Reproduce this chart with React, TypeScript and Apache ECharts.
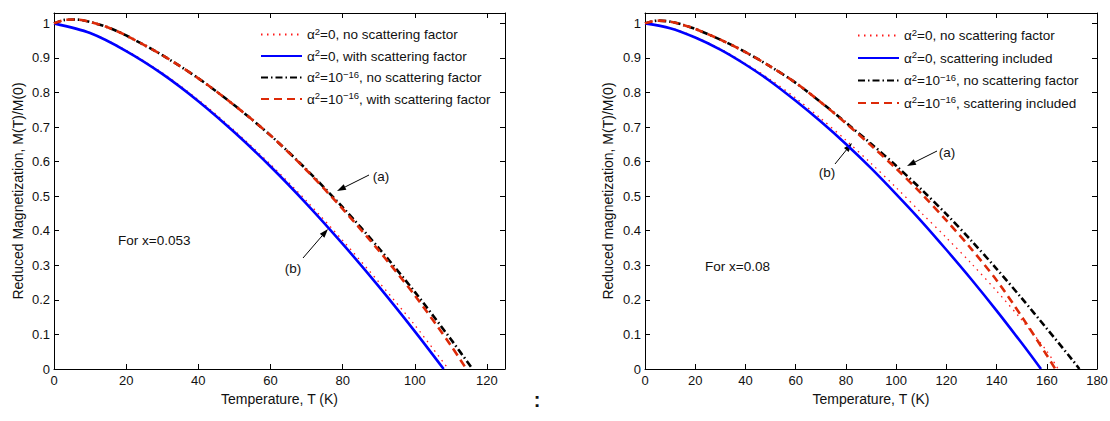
import React, { useEffect, useRef } from 'react';
import * as echarts from 'echarts';

// ---------- data ----------
const leftTicksX = [0, 20, 40, 60, 80, 100, 120];
const rightTicksX = [0, 20, 40, 60, 80, 100, 120, 140, 160, 180];

const leftNames = [
  'α²=0, no scattering factor',
  'α²=0, with scattering factor',
  'α²=10⁻¹⁶, no scattering factor',
  'α²=10⁻¹⁶, with scattering factor',
];
const rightNames = [
  'α²=0, no scattering factor',
  'α²=0, scattering included',
  'α²=10⁻¹⁶, no scattering factor',
  'α²=10⁻¹⁶, scattering included',
];

// Left panel (x = 0.053)
const leftDotT = [0, 10, 20, 30, 40, 50, 60, 70, 80, 90, 100, 109.3];
const leftDotM = [1, 0.973, 0.922, 0.857, 0.779, 0.69, 0.592, 0.486, 0.372, 0.252, 0.127, 0];
const leftBlueT = [0, 10, 20, 30, 40, 50, 60, 70, 80, 90, 100, 108];
const leftBlueM = [1, 0.972, 0.92, 0.854, 0.775, 0.685, 0.586, 0.478, 0.362, 0.239, 0.109, 0];
const leftBlackT = [0, 3, 6, 10, 15, 20, 30, 40, 50, 60, 70, 80, 90, 100, 110, 116];
const leftBlackM = [1, 1.01, 1.011, 1.004, 0.988, 0.965, 0.908, 0.841, 0.763, 0.676, 0.577, 0.468, 0.35, 0.223, 0.086, 0];
const leftRedT = [0, 3, 6, 10, 15, 20, 30, 40, 50, 60, 70, 80, 90, 100, 110, 114.3];
const leftRedM = [1, 1.01, 1.011, 1.004, 0.988, 0.965, 0.908, 0.841, 0.763, 0.676, 0.575, 0.463, 0.343, 0.213, 0.068, 0];

// Right panel (x = 0.08)
const rightDotT = [0, 10, 20, 30, 40, 50, 60, 70, 80, 90, 100, 110, 120, 130, 140, 150, 160, 164.5];
const rightDotM = [1, 0.987, 0.961, 0.926, 0.884, 0.837, 0.784, 0.725, 0.662, 0.595, 0.525, 0.452, 0.38, 0.305, 0.226, 0.142, 0.052, 0];
const rightBlueT = [0, 10, 20, 30, 40, 50, 60, 70, 80, 90, 100, 110, 120, 130, 140, 150, 157.7];
const rightBlueM = [1, 0.986, 0.959, 0.924, 0.881, 0.832, 0.776, 0.716, 0.651, 0.581, 0.506, 0.428, 0.345, 0.259, 0.169, 0.075, 0];
const rightBlackT = [0, 5, 10, 15, 20, 30, 40, 50, 60, 70, 80, 90, 100, 110, 120, 130, 140, 150, 160, 170, 173];
const rightBlackM = [1, 1.008, 1.005, 0.996, 0.984, 0.953, 0.917, 0.875, 0.828, 0.772, 0.713, 0.652, 0.588, 0.52, 0.448, 0.371, 0.29, 0.205, 0.117, 0.028, 0];
const rightRedT = [0, 5, 10, 15, 20, 30, 40, 50, 60, 70, 80, 90, 100, 110, 120, 130, 140, 150, 160, 163.4];
const rightRedM = [1, 1.008, 1.005, 0.996, 0.984, 0.953, 0.917, 0.875, 0.828, 0.772, 0.711, 0.647, 0.58, 0.508, 0.43, 0.347, 0.257, 0.152, 0.04, 0];

const FONT = '"Liberation Sans", Arial, Helvetica, sans-serif';
const TXT = '#111';

const pairs = (t: number[], m: number[]) => t.map((v, i) => [v, m[i]]);

const STYLES = [
  { color: '#ff1a1a', width: 1.3, type: [1.5, 4.5] as any },
  { color: '#0000ff', width: 2.6, type: 'solid' as any },
  { color: '#000000', width: 2.6, type: [7, 3, 1.5, 3] as any },
  { color: '#dd2a08', width: 2.6, type: [8, 5] as any },
];

function lineSeries(name: string, t: number[], m: number[], gi: number, k: number) {
  const s = STYLES[k];
  return {
    type: 'line',
    name,
    xAxisIndex: gi,
    yAxisIndex: gi,
    data: pairs(t, m),
    symbol: 'none',
    showSymbol: false,
    smooth: 0.3,
    silent: true,
    z: 2 + k,
    lineStyle: { color: s.color, width: s.width, type: s.type },
    itemStyle: { color: s.color },
  };
}

function arrow(x1: number, y1: number, x2: number, y2: number) {
  const dx = x2 - x1;
  const dy = y2 - y1;
  const L = Math.hypot(dx, dy);
  const ux = dx / L;
  const uy = dy / L;
  const hl = 9;
  const hw = 3;
  const bx = x2 - ux * hl;
  const by = y2 - uy * hl;
  return [
    { type: 'line', shape: { x1, y1, x2: bx, y2: by }, style: { stroke: '#000', lineWidth: 1 } },
    {
      type: 'polygon',
      shape: { points: [[x2, y2], [bx - uy * hw, by + ux * hw], [bx + uy * hw, by - ux * hw]] },
      style: { fill: '#000' },
    },
  ];
}

function label(text: string, x: number, y: number, align = 'center', size = 13.5, weight = 'normal') {
  return {
    type: 'text',
    x,
    y,
    style: {
      text,
      fill: TXT,
      fontSize: size,
      fontWeight: weight,
      fontFamily: FONT,
      align,
      verticalAlign: 'middle',
      textAlign: align,
      textVerticalAlign: 'middle',
    },
  };
}

const richFormatter = (name: string) => {
  const rest = name.split(', ').slice(1).join(', ');
  if (name.indexOf('10⁻¹⁶') >= 0) return `{t|α}{s|2}{t|=10}{s|−16}{t|, ${rest}}`;
  return `{t|α}{s|2}{t|=0, ${rest}}`;
};

const rich = {
  t: { fontSize: 13.5, fontFamily: FONT, color: TXT, lineHeight: 17, verticalAlign: 'middle' },
  s: { fontSize: 9.5, fontFamily: FONT, color: TXT, lineHeight: 10, verticalAlign: 'top' },
};

function xAxes(gi: number, max: number, main: boolean) {
  return {
    type: 'value',
    gridIndex: gi,
    min: 0,
    max,
    interval: 20,
    position: main ? 'bottom' : 'top',
    name: main ? 'Temperature, T (K)' : '',
    nameLocation: 'middle',
    nameGap: 22,
    nameTextStyle: { fontSize: 14, fontFamily: FONT, color: TXT },
    axisLine: { show: true, onZero: false, lineStyle: { color: '#000', width: 1 } },
    axisTick: { show: true, inside: true, length: 5, lineStyle: { color: '#000', width: 1 } },
    axisLabel: {
      show: main,
      margin: 5,
      fontSize: 13,
      fontFamily: FONT,
      color: TXT,
      formatter: (v: number) => (Math.abs(v % 20) < 1e-6 ? String(v) : ''),
    },
    splitLine: { show: false },
  };
}

function yAxes(gi: number, main: boolean, name: string, gap: number) {
  return {
    type: 'value',
    gridIndex: gi,
    min: 0,
    max: 1.03,
    interval: 0.1,
    position: main ? 'left' : 'right',
    name: main ? name : '',
    nameLocation: 'middle',
    nameGap: gap,
    nameTextStyle: { fontSize: 14, fontFamily: FONT, color: TXT },
    axisLine: { show: true, onZero: false, lineStyle: { color: '#000', width: 1 } },
    axisTick: { show: true, inside: true, length: 5, lineStyle: { color: '#000', width: 1 } },
    axisLabel: {
      show: main,
      margin: 4,
      fontSize: 13,
      fontFamily: FONT,
      color: TXT,
      formatter: (v: number) => {
        const r = Math.round(v * 10);
        return Math.abs(v * 10 - r) < 1e-6 ? String(r / 10) : '';
      },
    },
    splitLine: { show: false },
  };
}

const legendBase = {
  orient: 'vertical',
  itemWidth: 41,
  itemHeight: 10,
  selectedMode: false,
  formatter: richFormatter,
  itemStyle: { opacity: 0, borderWidth: 0 },
  textStyle: { fontFamily: FONT, color: TXT, rich },
};

export default function App() {
  const ref = useRef<HTMLDivElement>(null);

  useEffect(() => {
    if (!ref.current) return;
    const chart = echarts.init(ref.current, undefined, { renderer: 'svg' });

    const option: any = {
      animation: false,
      backgroundColor: '#ffffff',
      grid: [
        { left: 54, top: 13, width: 451, height: 356, outerBoundsMode: 'none', containLabel: false },
        { left: 645, top: 13, width: 452, height: 356, outerBoundsMode: 'none', containLabel: false },
      ],
      xAxis: [xAxes(0, 125, true), xAxes(1, 180, true), xAxes(0, 125, false), xAxes(1, 180, false)],
      yAxis: [
        yAxes(0, true, 'Reduced Magnetization, M(T)/M(0)', 29),
        yAxes(1, true, 'Reduced magnetization, M(T)/M(0)', 30),
        yAxes(0, false, '', 0),
        yAxes(1, false, '', 0),
      ],
      legend: [
        { ...legendBase, data: leftNames, left: 255, top: 21, itemGap: 6 },
        { ...legendBase, data: rightNames, left: 852, top: 22, itemGap: 7 },
      ],
      series: [
        lineSeries(leftNames[0], leftDotT, leftDotM, 0, 0),
        lineSeries(leftNames[1], leftBlueT, leftBlueM, 0, 1),
        lineSeries(leftNames[2], leftBlackT, leftBlackM, 0, 2),
        lineSeries(leftNames[3], leftRedT, leftRedM, 0, 3),
        lineSeries(rightNames[0], rightDotT, rightDotM, 1, 0),
        lineSeries(rightNames[1], rightBlueT, rightBlueM, 1, 1),
        lineSeries(rightNames[2], rightBlackT, rightBlackM, 1, 2),
        lineSeries(rightNames[3], rightRedT, rightRedM, 1, 3),
      ],
      graphic: [
        label('(a)', 381, 176),
        ...arrow(369, 175, 337, 191),
        label('(b)', 293, 268),
        ...arrow(303, 258, 328, 229),
        label('For x=0.053', 118, 240, 'left'),
        label('(a)', 947, 152),
        ...arrow(937, 151, 907, 166),
        label('(b)', 827, 172),
        ...arrow(835, 164, 852, 143),
        label('For x=0.08', 705, 266, 'left'),
        label(':', 537, 400, 'center', 20, 'bold'),
      ],
    };

    chart.setOption(option);
    return () => chart.dispose();
  }, []);

  return (
    <div
      ref={ref}
      style={{ position: 'absolute', left: 0, top: 0, width: 1110, height: 421, background: '#fff' }}
    />
  );
}
